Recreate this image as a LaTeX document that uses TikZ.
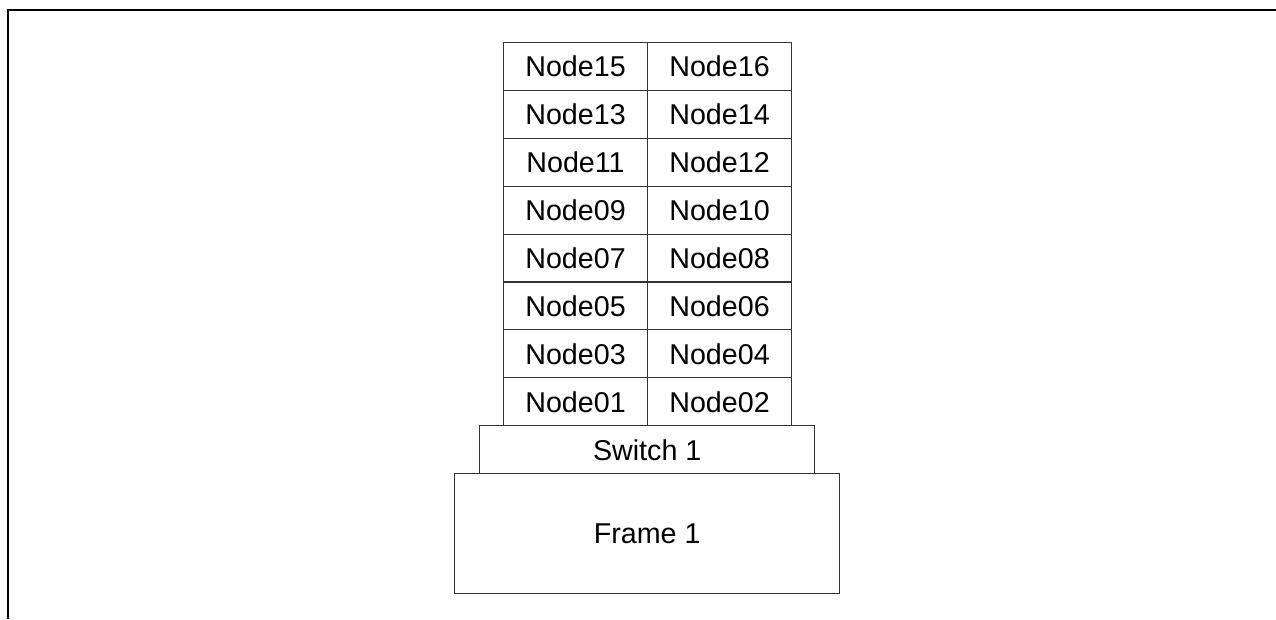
\documentclass[tikz,border=0pt]{standalone}
\usepackage{fontspec}
\setmainfont{Liberation Sans}
\begin{document}
\begin{tikzpicture}[x=0.75pt,y=-0.75pt,
  box/.style={draw=black!80, line width=0.8pt, inner sep=0pt, anchor=north west,
              font=\fontsize{21.5}{25}\selectfont},
  cell/.style={box, minimum width=108pt, minimum height=35.9pt},
  frameline/.style={line width=1.5pt}]
  \useasboundingbox (0,0) rectangle (1276,619);
  % outer frame edges (top and left)
  \coordinate (fa) at (7.5,619);
  \coordinate (fb) at (7.5,9.5);
  \coordinate (fc) at (1276,9.5);
  \draw[frameline] (fa) -- (fb) -- (fc);
  % node grid, two columns, eight rows
  \foreach \r [evaluate=\r as \y using 42+(7-\r)*47.9,
               evaluate=\r as \a using int(2*\r+1),
               evaluate=\r as \b using int(2*\r+2)] in {0,...,7} {
    \node[cell] (n\a) at (503,\y) {Node\ifnum\a<10 0\fi\a};
    \node[cell] (n\b) at (647,\y) {Node\ifnum\b<10 0\fi\b};
  }
  % switch and frame
  \node[box, minimum width=251.5pt, minimum height=36.1pt] (sw) at (479,425.2) {Switch 1};
  \node[box, minimum width=288.5pt, minimum height=90pt] (fr) at (454.3,473.3) {Frame 1};
\end{tikzpicture}
\end{document}
